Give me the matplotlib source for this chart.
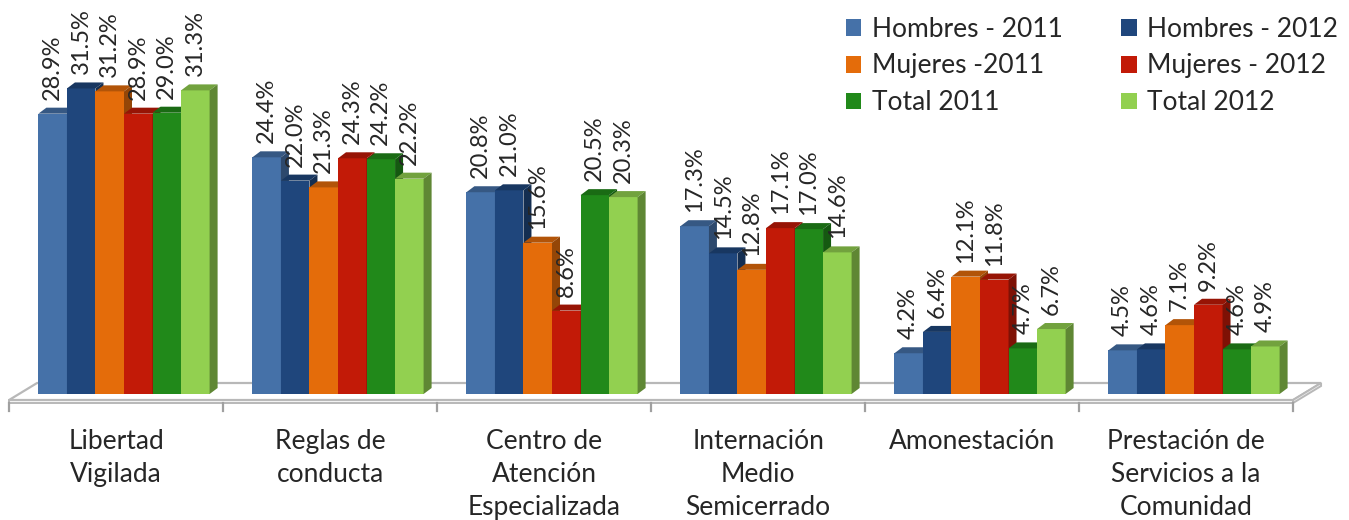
import numpy as np
import matplotlib.pyplot as plt
from matplotlib.patches import Polygon, Patch
from matplotlib.colors import to_rgb

plt.rcParams['font.family'] = ['Lato', 'DejaVu Sans']

# data
categories = ["Libertad\nVigilada", "Reglas de\nconducta", "Centro de\nAtención\nEspecializada",
              "Internación\nMedio\nSemicerrado", "Amonestación", "Prestación de\nServicios a la\nComunidad"]
series_names = ["Hombres - 2011", "Hombres - 2012", "Mujeres -2011",
                "Mujeres - 2012", "Total 2011", "Total 2012"]
hombres_2011 = [28.9, 24.4, 20.8, 17.3, 4.2, 4.5]
hombres_2012 = [31.5, 22.0, 21.0, 14.5, 6.4, 4.6]
mujeres_2011 = [31.2, 21.3, 15.6, 12.8, 12.1, 7.1]
mujeres_2012 = [28.9, 24.3, 8.6, 17.1, 11.8, 9.2]
total_2011 = [29.0, 24.2, 20.5, 17.0, 4.7, 4.6]
total_2012 = [31.3, 22.2, 20.3, 14.6, 6.7, 4.9]
series = [hombres_2011, hombres_2012, mujeres_2011, mujeres_2012, total_2011, total_2012]
colors = ["#4571A8", "#1F467C", "#E46C0A", "#C21A07", "#21891A", "#92D050"]

# px scale used for the layout: 214 px per category, 9.7 px per percent
PX_X = 1 / 214
PX_Y = 1 / 9.7


def shade(c, f):
    r, g, b = to_rgb(c)
    return (r * f, g * f, b * f)


fig = plt.figure(figsize=(13.49, 5.2), dpi=100)
ax = fig.add_axes([0, 0, 1, 1])
ax.set_xlim(-124 * PX_X, (1349 - 124) * PX_X)
ax.set_ylim(-126 * PX_Y, 394 * PX_Y)
ax.axis("off")

# floor
fx0, fx1 = -0.537, 5.463
fdx, fdy = 28 * PX_X, 17 * PX_Y
fy = -6 * PX_Y
thick = 3 * PX_Y
floor_col = "#B8B8B8"
ax.add_patch(Polygon([(fx0, fy), (fx1, fy), (fx1 + fdx, fy + fdy), (fx0 + fdx, fy + fdy)],
                     closed=True, facecolor="white", edgecolor=floor_col, lw=1.6, zorder=1))
ax.add_patch(Polygon([(fx0, fy), (fx1, fy), (fx1, fy - thick), (fx0, fy - thick)],
                     closed=True, facecolor="#F2F2F2", edgecolor=floor_col, lw=1.4, zorder=1))
ax.add_patch(Polygon([(fx1, fy), (fx1 + fdx, fy + fdy), (fx1 + fdx, fy + fdy - thick), (fx1, fy - thick)],
                     closed=True, facecolor="#F2F2F2", edgecolor=floor_col, lw=1.4, zorder=1))
for k in range(len(categories) + 1):
    ax.plot([fx0 + k, fx0 + k], [fy - thick, fy - thick - 8 * PX_Y], color="#A0A0A0", lw=1.6, zorder=1)

# bars
n = len(series)
group = 0.8
w = group / n
bdx, bdy = 8 * PX_X, 6 * PX_Y
x = np.arange(len(categories))
z = 2
for i in range(len(categories)):
    for j in range(n):
        xc = x[i] - group / 2 + w * (j + 0.5)
        v = series[j][i]
        x0 = xc - w / 2
        x1 = xc + w / 2
        ax.bar(xc, v, width=w, color=colors[j], lw=0, zorder=z)
        ax.add_patch(Polygon([(x0, v), (x1, v), (x1 + bdx, v + bdy), (x0 + bdx, v + bdy)],
                             closed=True, facecolor=shade(colors[j], 0.78), lw=0, zorder=z))
        ax.add_patch(Polygon([(x1, 0), (x1 + bdx, bdy), (x1 + bdx, v + bdy), (x1, v)],
                             closed=True, facecolor=shade(colors[j], 0.65), lw=0, zorder=z))
        ax.text(xc, v + bdy + 8 * PX_Y, f"{v:.1f}%", rotation=90, ha="center", va="bottom",
                fontsize=17, color="#262626", zorder=50)
        z += 1

# category labels
for i, c in enumerate(categories):
    ax.text(x[i] - 0.037, -35 * PX_Y, c, ha="center", va="top", fontsize=19,
            linespacing=1.4, color="#262626")

# legend
order = [0, 2, 4, 1, 3, 5]
handles = [Patch(facecolor=colors[k], edgecolor="none") for k in order]
labels = [series_names[k] for k in order]
leg = fig.legend(handles, labels, loc="upper left", bbox_to_anchor=(835 / 1349, 1 - 6 / 520),
                 ncol=2, frameon=False, fontsize=19, handlelength=0.6, handleheight=0.6,
                 handletextpad=0.4, columnspacing=2.2, labelspacing=0.45, borderaxespad=0)
for t in leg.get_texts():
    t.set_color("#262626")

fig.savefig("out.png", dpi=100)
